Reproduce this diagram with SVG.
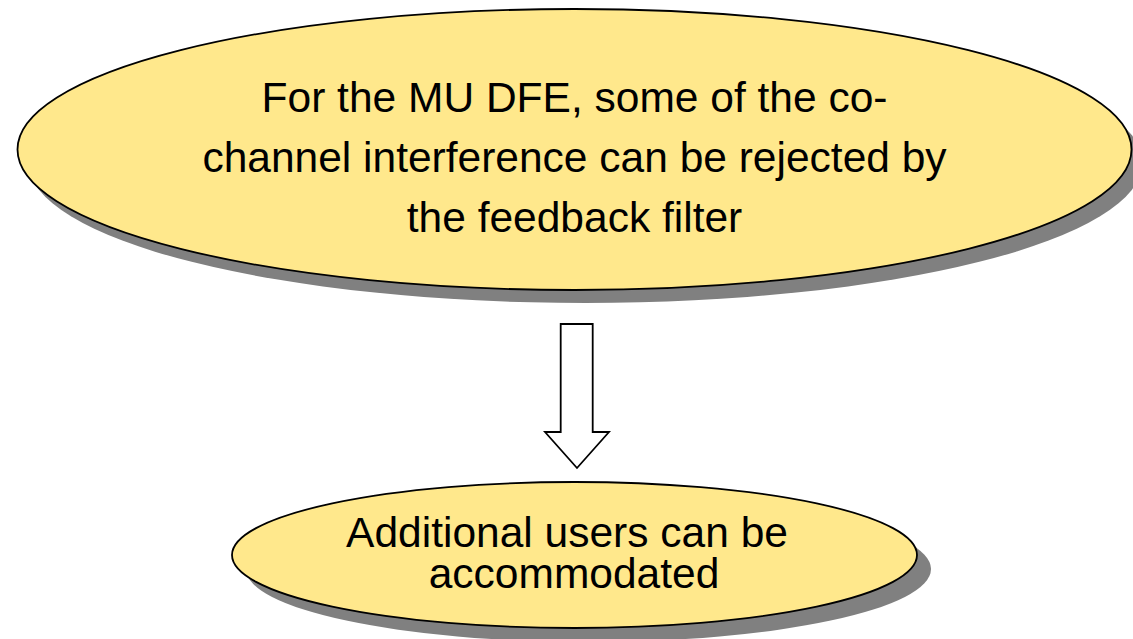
<svg xmlns="http://www.w3.org/2000/svg" width="1133" height="639" viewBox="0 0 1133 639">
  <style>
    .shadow { fill: #808080; stroke: none; }
    .node { fill: #FFE88C; stroke: #000000; stroke-width: 1.8; }
    .label { font-family: "Liberation Sans", Arial, sans-serif; font-size: 42.5px; fill: #000000; text-anchor: middle; }
    .arrow { fill: #FFFFFF; stroke: #000000; stroke-width: 1.8; stroke-linejoin: miter; }
  </style>
  <rect width="1133" height="639" fill="#FFFFFF"/>
  <g id="node-top">
    <ellipse class="shadow" cx="585.5" cy="162.5" rx="557" ry="140.5"/>
    <ellipse class="node" cx="574.5" cy="149.5" rx="557" ry="140.5"/>
    <text class="label"><tspan x="574.5" y="112">For the MU DFE, some of the co-</tspan><tspan x="574.5" y="172">channel interference can be rejected by</tspan><tspan x="574.5" y="232">the feedback filter</tspan></text>
  </g>
  <g id="connectors">
    <path class="arrow" d="M560.7,324 L592.7,324 L592.7,432 L609,432 L577,468 L545,432 L560.7,432 Z"/>
  </g>
  <g id="node-bottom">
    <ellipse class="shadow" cx="588.5" cy="569" rx="342.5" ry="73"/>
    <ellipse class="node" cx="574.5" cy="555" rx="342.5" ry="73"/>
    <text class="label"><tspan x="567" y="547">Additional users can be</tspan><tspan x="574" y="588">accommodated</tspan></text>
  </g>
</svg>
